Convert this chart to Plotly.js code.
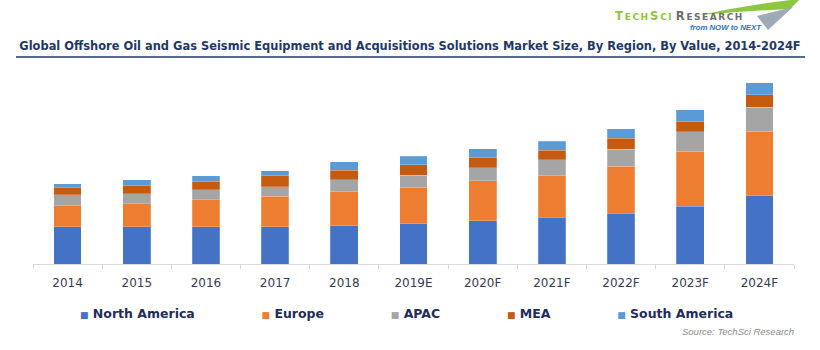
<!DOCTYPE html>
<html>
<head>
<meta charset="utf-8">
<script src="https://cdn.plot.ly/plotly-3.0.1.min.js"></script>
<style>html,body{margin:0;padding:0;background:#fff;}#chart{width:820px;height:350px;}</style>
</head>
<body>
<div id="chart"></div>
<script>
// ---- data ----
const years = ["2014","2015","2016","2017","2018","2019E","2020F","2021F","2022F","2023F","2024F"];
const northAmerica = [37.5, 37.5, 37.5, 37.5, 38.5, 40.2, 43.2, 47.0, 51.0, 57.7, 68.5];
const europe       = [21.0, 22.7, 26.7, 30.3, 34.0, 36.4, 40.0, 41.4, 46.7, 55.0, 64.3];
const apac         = [11.0, 10.3, 10.3,  9.7, 12.0, 12.0, 13.0, 16.0, 17.3, 19.7, 24.0];
const mea          = [ 7.3,  8.3,  8.3, 10.7,  9.3, 10.6, 10.7,  9.3, 11.0, 10.6, 12.3];
const southAmerica = [ 3.3,  5.3,  5.3,  5.3,  8.3,  8.7,  8.3,  9.3,  9.4, 11.4, 12.0];
const seriesNames  = ["North America","Europe","APAC","MEA","South America"];
const seriesColors = ["#4472C4","#ED7D31","#A5A5A5","#C55A11","#5B9BD5"];
const seriesValues = [northAmerica, europe, apac, mea, southAmerica];

// ---- layout geometry ----
const W = 820, H = 350, ML = 33, MR = 26, MT = 64, MB = 86;
const PW = W - ML - MR, PH = H - MT - MB;
const px = x => (x - ML) / PW;
const py = y => (H - MB - y) / PH;

const NB = "\u00a0";
const HS = "\u2006";
const traces = [];
seriesNames.forEach((n, i) => {
  traces.push({
    type: "bar", x: years, y: seriesValues[i], name: n,
    marker: {color: seriesColors[i], line: {color: "rgba(255,255,255,0.35)", width: 0.6}},
    legendgroup: n, showlegend: false, hoverinfo: "x+y+name"
  });
});
// legend entries with small square glyph
seriesNames.forEach((n, i) => {
  traces.push({
    type: "scatter", mode: "markers", x: [null], y: [null],
    legendgroup: n, showlegend: true,
    marker: {opacity: 0, size: 0, color: "rgba(0,0,0,0)", line: {width: 0}},
    name: "<span style='color:" + seriesColors[i] + ";font-size:9px'>■</span>" + NB + n + NB.repeat(5)
  });
});

const path = pts => "M" + pts.map(p => px(p[0]).toFixed(5) + "," + py(p[1]).toFixed(5)).join(" L") + " Z";
const spaced = s => s.split("").join(HS);
const small = s => "<span style='font-size:9px'>" + spaced(s) + "</span>";

const layout = {
  width: W, height: H,
  margin: {l: ML, r: MR, t: MT, b: MB, pad: 0},
  paper_bgcolor: "#ffffff", plot_bgcolor: "#ffffff",
  barmode: "stack", bargap: 0.6,
  showlegend: true,
  title: {
    text: "<b>Global Offshore Oil and Gas Seismic Equipment and Acquisitions Solutions Market Size, By Region, By Value, 2014-2024F</b>",
    font: {family: "DejaVu Sans, Verdana, sans-serif", size: 11.45, color: "#1F3864"},
    x: 0.5, xanchor: "center", y: 1 - 46 / H, yanchor: "middle"
  },
  xaxis: {
    type: "category", showline: true, linecolor: "#D9D9D9", linewidth: 1,
    ticks: "outside", tickson: "boundaries", ticklen: 4, tickcolor: "#D9D9D9",
    ticklabelstandoff: 8,
    showgrid: false, zeroline: false,
    tickfont: {family: "DejaVu Sans, Verdana, sans-serif", size: 12, color: "#363B55"}
  },
  yaxis: {range: [0, 200], visible: false, showgrid: false, zeroline: false, fixedrange: true},
  legend: {
    orientation: "h", x: px(40), xanchor: "left", y: py(313), yanchor: "middle",
    font: {family: "DejaVu Sans, Verdana, sans-serif", size: 12.5, color: "#1F2D5A", weight: "bold"},
    bgcolor: "rgba(0,0,0,0)", itemclick: false, itemdoubleclick: false
  },
  shapes: [
    {type: "line", xref: "paper", yref: "paper", x0: px(16), x1: px(805), y0: py(57), y1: py(57),
     line: {color: "#1F3864", width: 1.5}},
    {type: "path", xref: "paper", yref: "paper", fillcolor: "#8DC63F", line: {width: 0},
     path: "M" + px(700) + "," + py(15) + " Q" + px(752) + "," + py(4) + " " + px(800) + "," + py(-1) +
           " L" + px(790) + "," + py(9) + " Q" + px(745) + "," + py(11) + " " + px(700) + "," + py(15) + " Z"},
    {type: "path", xref: "paper", yref: "paper", fillcolor: "#9FAAB6", line: {width: 0},
     path: path([[757, 16], [793, 7], [768, 30]])}
  ],
  annotations: [
    {xref: "paper", yref: "paper", x: px(613), y: py(16), xanchor: "left", yanchor: "middle", showarrow: false,
     text: "<span style='color:#8DC63F'>T" + HS + small("ECH") + HS + "S" + HS + small("CI") + "</span>" + NB +
           "<span style='color:#6D6E71'>R" + HS + small("ESEARCH") + "</span>",
     font: {family: "DejaVu Sans, sans-serif", size: 11.5, color: "#6D6E71", weight: "bold"}},
    {xref: "paper", yref: "paper", x: px(688), y: py(27.5), xanchor: "left", yanchor: "middle", showarrow: false,
     text: "<i>from NOW to NEXT</i>",
     font: {family: "Liberation Sans, Arial, sans-serif", size: 7.8, color: "#2E75B6", weight: "bold"}},
    {xref: "paper", yref: "paper", x: px(796), y: py(331), xanchor: "right", yanchor: "middle", showarrow: false,
     text: "<i>Source: TechSci Research</i>",
     font: {family: "Liberation Sans, Arial, sans-serif", size: 9.5, color: "#8C8C8C"}}
  ]
};

Plotly.newPlot("chart", traces, layout, {displayModeBar: false, staticPlot: true});
</script>
</body>
</html>
